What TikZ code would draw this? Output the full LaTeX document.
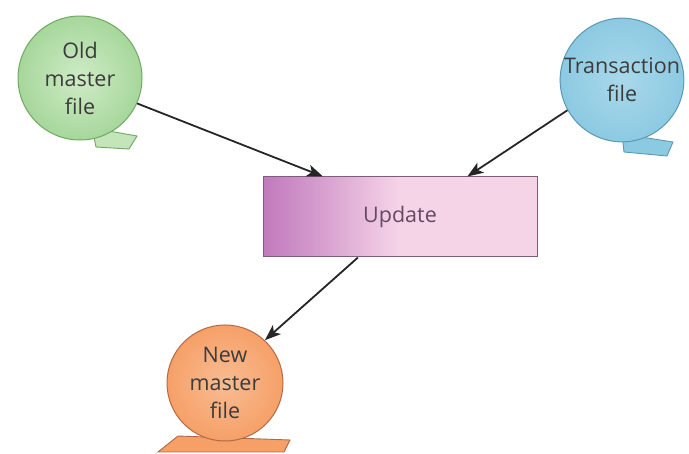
\documentclass[tikz,border=0pt]{standalone}
\usepackage{fontspec}
\setmainfont{Open Sans}
\usetikzlibrary{positioning, arrows.meta, calc, shadings}
\definecolor{oldgreen}{HTML}{A6D79B}
\definecolor{oldgreenin}{HTML}{CFEBC6}
\definecolor{oldgreenline}{HTML}{6FA962}
\definecolor{transblue}{HTML}{8CCAE2}
\definecolor{transbluein}{HTML}{A9D8EA}
\definecolor{transblueline}{HTML}{5B98B6}
\definecolor{neworange}{HTML}{F6A068}
\definecolor{neworangein}{HTML}{F9BC92}
\definecolor{neworangeline}{HTML}{B26A46}
\definecolor{updpurple}{HTML}{C07ABD}
\definecolor{updpink}{HTML}{F6D4E8}
\definecolor{updline}{HTML}{7E5C7C}
\definecolor{labelgrey}{HTML}{3C3C3C}
\pgfdeclarehorizontalshading{updateshade}{100bp}{color(0bp)=(updpurple); color(25bp)=(updpurple); color(33bp)=(updpurple!70!updpink); color(50bp)=(updpink); color(100bp)=(updpink)}

\begin{document}
\begin{tikzpicture}[
      x=1pt, y=-1pt,
      every node/.style={font=\fontsize{21.5}{28}\selectfont, text=labelgrey, align=center},
      filecircle/.style={circle, draw, line width=1pt, minimum size=#1, inner sep=0pt},
      tab/.style={line width=0.9pt},
      updatebox/.style={rectangle, draw=updline, line width=1pt, shading=updateshade,
        minimum width=274, minimum height=80, text=updline!80!black},
      link/.style={-{Stealth[length=16pt, width=12pt, inset=4pt]}, line width=1.8pt, black!85},
    ]
    \useasboundingbox (0,0) rectangle (689,454);

    % tabs under the file circles
    \draw[tab, draw=oldgreenline, fill=oldgreenin!70!oldgreen] (92,128) -- (137,136) -- (129,149) -- (96,147) -- cycle;
    \draw[tab, draw=transblueline, fill=transblue] (622,134) -- (673,142) -- (667,156) -- (624,152) -- cycle;
    \draw[tab, draw=neworangeline, fill=neworange] (178,436) -- (290,440) -- (284,452) -- (158,452) -- cycle;

    \node[filecircle=124, draw=oldgreenline, inner color=oldgreenin, outer color=oldgreen] (old) at (80,78) {Old\\master\\file};
    \node[filecircle=120, draw=transblueline, inner color=transbluein, outer color=transblue] (trans) at (622,80) {Transaction\\file};
    \node[filecircle=116, draw=neworangeline, inner color=neworangein, outer color=neworange] (new) at (225,383) {New\\master\\file};

    \node[updatebox] (update) at (400,217) {Update};

    \coordinate (updin1) at ($(update.north west)!0.22!(update.north east)$);
    \coordinate (updin2) at ($(update.north west)!0.745!(update.north east)$);
    \coordinate (updout) at ($(update.south west)!0.347!(update.south east)$);

    \draw[link] (old.-24) -- (updin1);
    \draw[link] (trans.-151) -- (updin2);
    \draw[link] (updout) -- (new.47);
  \end{tikzpicture}
\end{document}
